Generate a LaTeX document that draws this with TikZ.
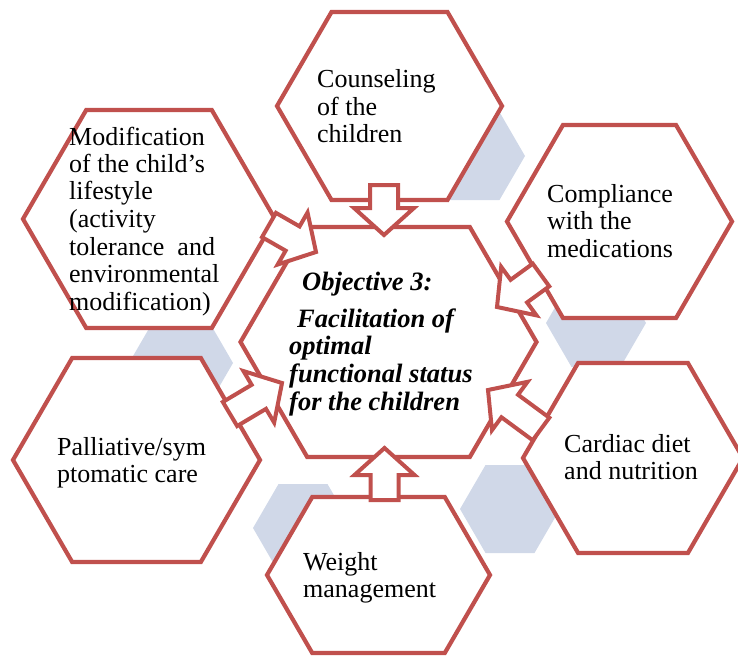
\documentclass[tikz,border=0pt]{standalone}
\usepackage{fontspec}
\setmainfont{Liberation Serif}
\usetikzlibrary{calc}
\definecolor{hexred}{HTML}{C0504D}
\definecolor{hexgray}{HTML}{D0D8E8}
\newcommand\hexshape[5]{%
  \path[#1] ({#2-#4},{#3}) -- ({#2-#4+0.58*#5},{#3-#5}) -- ({#2+#4-0.58*#5},{#3-#5})
    -- ({#2+#4},{#3}) -- ({#2+#4-0.58*#5},{#3+#5}) -- ({#2-#4+0.58*#5},{#3+#5}) -- cycle;}
\newcommand\blockarrow[2]{%
  \coordinate (#1-b) at ($(#2)!27pt!(#1)$);
  \draw[blockarr] ($(#1)!14pt!90:(#2)$) -- ($(#1-b)!14pt!90:(#2)$) -- ($(#1-b)!30pt!90:(#2)$)
    -- (#2) -- ($(#1-b)!30pt!-90:(#2)$) -- ($(#1-b)!14pt!-90:(#2)$) -- ($(#1)!14pt!-90:(#2)$) -- cycle;}
\tikzset{
  hexout/.style={draw=hexred, fill=white, line width=4.2pt, line join=miter},
  hexfill/.style={fill=hexgray},
  blockarr/.style={draw=hexred, fill=white, line width=4pt, line join=miter},
  txt/.style={inner sep=0pt, font=\fontsize{26}{27.5}\selectfont, text=black},
  ctxt/.style={inner sep=0pt, font=\fontsize{26.5}{27.7}\selectfont\bfseries\itshape, text=black}
}
\begin{document}
\begin{tikzpicture}[x=1pt,y=-1pt]
\useasboundingbox (0,0) rectangle (738,658);
% gray filler hexagons
\hexshape{hexfill}{475}{156}{50}{44}
\hexshape{hexfill}{596}{323}{50}{44}
\hexshape{hexfill}{510}{509}{50}{44}
\hexshape{hexfill}{303}{528}{50}{44}
\hexshape{hexfill}{181}{363}{52}{44}
% outer hexagons
\hexshape{hexout}{389.5}{106}{112.5}{94}
\hexshape{hexout}{149}{219}{126}{109}
\hexshape{hexout}{619.5}{221.5}{112.5}{96.5}
\hexshape{hexout}{136.5}{460}{123.5}{102}
\hexshape{hexout}{633}{458}{110}{95}
\hexshape{hexout}{378.5}{575}{111.5}{78}
% center hexagon
\hexshape{hexout}{388.5}{342}{148}{115}
% arrow end points
\coordinate (tTop) at (384,185);   \coordinate (hTop) at (384,235);
\coordinate (tBot) at (384.5,500); \coordinate (hBot) at (384.5,448);
\coordinate (tTL) at (269,225);    \coordinate (hTL) at (316,252);
\coordinate (tTR) at (541,275);    \coordinate (hTR) at (497,307);
\coordinate (tBR) at (541,429);    \coordinate (hBR) at (488,390);
\coordinate (tBL) at (230,414);    \coordinate (hBL) at (282,383);
\blockarrow{tTop}{hTop}
\blockarrow{tBot}{hBot}
\blockarrow{tTL}{hTL}
\blockarrow{tTR}{hTR}
\blockarrow{tBR}{hBR}
\blockarrow{tBL}{hBL}
% texts
\node[txt, anchor=base west] (counsel) at (317,88)
  {\begin{tabular}[t]{@{}l@{}}Counseling\\of the\\children\end{tabular}};
\node[txt, anchor=base west] (modif) at (69,145)
  {\begin{tabular}[t]{@{}l@{}}Modification\\of the child’s\\lifestyle\\(activity\\tolerance~~and\\environmental\\modification)\end{tabular}};
\node[txt, anchor=base west] (compl) at (547,202)
  {\begin{tabular}[t]{@{}l@{}}Compliance\\with the\\medications\end{tabular}};
\node[txt, anchor=base west] (pallia) at (57,455)
  {\begin{tabular}[t]{@{}l@{}}Palliative/sym\\ptomatic care\end{tabular}};
\node[txt, anchor=base west] (cardiac) at (564,452)
  {\begin{tabular}[t]{@{}l@{}}Cardiac diet\\and nutrition\end{tabular}};
\node[txt, anchor=base west] (weight) at (303,570)
  {\begin{tabular}[t]{@{}l@{}}Weight\\management\end{tabular}};
\node[ctxt, anchor=base west] (objective) at (289,290)
  {\begin{tabular}[t]{@{}l@{}}\hspace*{13pt}Objective 3:\\[9.5pt]\hspace*{8pt}Facilitation of\\optimal\\functional status\\for the children\end{tabular}};
\end{tikzpicture}
\end{document}
